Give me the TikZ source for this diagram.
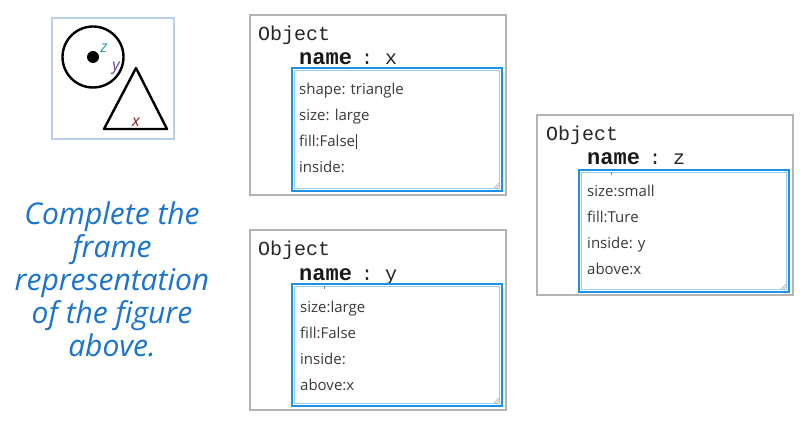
\documentclass[tikz,border=0pt]{standalone}
\usepackage{fontspec}
\setmainfont{Open Sans}
\setmonofont{Liberation Mono}
\newfontfamily\handfont{Open Sans}
\usetikzlibrary{calc}
\definecolor{framegray}{HTML}{B4B4B4}
\definecolor{boxblue}{HTML}{1E90E6}
\definecolor{boxlight}{HTML}{9CCDF2}
\definecolor{picborder}{HTML}{B9D0E8}
\definecolor{handblue}{HTML}{1C74CC}
\definecolor{zcol}{HTML}{2A9DAE}
\definecolor{ycol}{HTML}{5B3E96}
\definecolor{xcol}{HTML}{8E1B1B}
\definecolor{txt}{HTML}{3A3A3A}
\tikzset{
  outerframe/.style={draw=framegray, line width=1.2pt},
  objtitle/.style={anchor=base west, inner sep=0pt, font=\ttfamily\fontsize{20}{20}\selectfont, text=black!85},
  namekey/.style={anchor=base west, inner sep=0pt, font=\ttfamily\bfseries\fontsize{22}{22}\selectfont, text=black!90},
  nameval/.style={anchor=base, inner sep=0pt, font=\ttfamily\fontsize{20}{20}\selectfont, text=black!85},
  slot/.style={anchor=base west, inner sep=0pt, font=\fontsize{15}{15}\selectfont, text=txt},
  handtext/.style={align=center, inner sep=0pt, font=\handfont\itshape\fontsize{30}{33}\selectfont, text=handblue},
  lbl/.style={inner sep=0pt, font=\handfont\itshape\fontsize{16}{16}\selectfont},
  grip/.style={draw=gray!70, line width=0.6pt}
}
\newcommand{\slotbox}[5]{% name, x1,y1,x2,y2
  \draw[boxblue, line width=2.6pt] (#2,#3) rectangle (#4,#5);
  \draw[boxlight, line width=0.9pt] ($(#2,#3)+(2.3,2.3)$) rectangle ($(#4,#5)+(-2.3,-2.3)$);
  \coordinate (#1-br) at (#4,#5);
  \draw[grip] ($(#1-br)+(-8,-3)$) -- ($(#1-br)+(-3,-8)$);
  \draw[grip] ($(#1-br)+(-5.5,-3)$) -- ($(#1-br)+(-3,-5.5)$);
}
\newcommand{\namerowat}[4]{% prefix, x, y(baseline), value
  \node[namekey] (#1-key) at (#2,#3) {name};
  \node[nameval] (#1-colon) at ($(#2,#3)+(68,0)$) {:};
  \node[nameval] (#1-val) at ($(#2,#3)+(92,0)$) {#4};
}
\begin{document}
\begin{tikzpicture}[x=1pt,y=-1pt]
\useasboundingbox (0,0) rectangle (800,446);
\fill[white] (0,0) rectangle (800,446);

% picture
\draw[picborder, line width=1.5pt] (52,18) rectangle (174,139);
\node[circle, draw=black, line width=2.4pt, minimum size=61pt, inner sep=0pt] (circ) at (93,57) {};
\node[circle, fill=black, minimum size=12pt, inner sep=0pt] (dot) at (93,57) {};
\draw[line width=2.4pt, line join=round] (136,68) -- (104,129) -- (167,129) -- cycle;
\node[lbl, text=zcol] (zl) at (104,48) {z};
\node[lbl, text=ycol] (yl) at (116,68) {y};
\node[lbl, text=xcol] (xl) at (136,122) {x};

% instruction
\node[handtext] (instr) at (112,279) {Complete the\\frame\\representation\\of the figure\\above.};

% frame x
\draw[outerframe] (250,15) rectangle (506,195);
\node[objtitle] (ox) at (258,41) {Object};
\namerowat{nx}{299}{65}{x}
\slotbox{bx}{292}{68}{502}{191}
\node[slot] (x1) at (299,95) {shape: triangle};
\node[slot] (x2) at (299,121) {size: large};
\node[slot] (x3) at (299,147) {fill:False\kern0.5pt\rule[-2pt]{0.6pt}{15pt}};
\node[slot] (x4) at (299,173) {inside:};

% frame y
\draw[outerframe] (250,230) rectangle (506,410);
\node[objtitle] (oy) at (258,256) {Object};
\namerowat{ny}{299}{280}{y}
\slotbox{by}{292}{284}{502}{406}
\draw[gray, line width=0.6pt] (324,286) -- (324,289);
\node[slot] (y1) at (300,312) {size:large};
\node[slot] (y2) at (300,338) {fill:False};
\node[slot] (y3) at (300,364) {inside:};
\node[slot] (y4) at (300,390) {above:x};

% frame z
\draw[outerframe] (537,115) rectangle (793,295);
\node[objtitle] (oz) at (546,141) {Object};
\namerowat{nz}{587}{165}{z}
\slotbox{bz}{579}{170}{789}{292}
\draw[gray, line width=0.6pt] (611,172) -- (611,175);
\node[slot] (z1) at (587,197) {size:small};
\node[slot] (z2) at (587,223) {fill:Ture};
\node[slot] (z3) at (587,249) {inside: y};
\node[slot] (z4) at (587,275) {above:x};
\end{tikzpicture}
\end{document}
